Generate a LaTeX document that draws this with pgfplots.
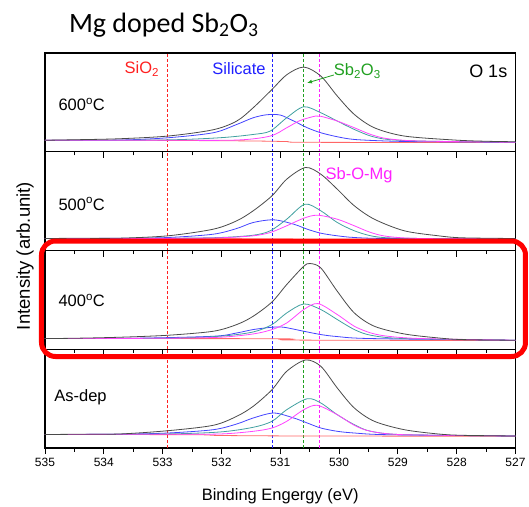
\documentclass[border=0pt]{standalone}
\usepackage{fontspec}
\setmainfont{Liberation Sans}
\newfontfamily\titlefont{Carlito}
\usepackage{pgfplots}
\pgfplotsset{compat=1.18}
\usepgfplotslibrary{groupplots}
\usetikzlibrary{calc,arrows.meta}

\definecolor{env}{HTML}{4A4A4A}
\definecolor{cteal}{HTML}{40A0A0}
\definecolor{cblue}{HTML}{4444FF}
\definecolor{cmag}{HTML}{FF44FF}
\definecolor{cred}{HTML}{FF6666}
\definecolor{lred}{HTML}{FF2020}
\definecolor{lblue}{HTML}{2020FF}
\definecolor{lgreen}{HTML}{20A020}
\definecolor{lmag}{HTML}{FF20FF}

\newcommand{\fs}[1]{\fontsize{#1}{#1}\selectfont}

\pgfplotsset{
  curve/.style={line width=0.8bp, smooth, tension=0.5},
  vline/.style={color=#1, line width=1.1bp, dash pattern=on 3bp off 2bp},
}

% peak positions (eV), chosen so that each line sits on a whole pixel
\newcommand{\vlines}{%
  \addplot[vline=lred] coordinates {(532.917,0) (532.917,98.75)};
  \addplot[vline=lblue] coordinates {(531.132,0) (531.132,98.75)};
  \addplot[vline=lgreen] coordinates {(530.605,0) (530.605,98.75)};
  \addplot[vline=lmag] coordinates {(530.333,0) (530.333,98.75)};
}

\begin{document}
\begin{tikzpicture}
\begin{groupplot}[
  group style={group name=G, group size=1 by 4, vertical sep=0pt, xticklabels at=edge bottom},
  width=470.5bp, height=98.75bp, scale only axis,
  xmin=527, xmax=535, x dir=reverse,
  ymin=0, ymax=98.75, ytick=\empty,
  xtick={527,528,...,535}, minor x tick num=1,
  tick align=outside, xtick pos=bottom,
  major tick length=6bp, minor tick length=3.5bp,
  axis line style={line width=1.1bp},
  every tick/.style={black, line width=0.9bp},
  /pgf/number format/assume math mode=true,
  /pgf/number format/1000 sep={},
  xticklabel style={font=\fs{12bp}, yshift=-1bp},
]
% ---- 600 C
\nextgroupplot
\vlines
\addplot[curve, cred] coordinates {(535,11.5)(533.5,11.5)(532.5,11.2)(531.5,10.8)(530.9,10.2)(530.7,9.5)(529,9.3)(527,9.2)};
\addplot[curve, cblue] coordinates {(535,11.5)(533.74,11.7)(532.91,14)(532.14,19)(531.74,27.3)(531.46,34)(531.23,37)(531.0,36.7)(530.77,30.7)(530.54,24)(530.31,19)(530.03,15)(529.74,12.3)(529.17,10.7)(528.5,10)(527,9.5)};
\addplot[curve, cteal] coordinates {(535,11.5)(533,11.8)(532.03,14)(531.46,17.3)(531.17,20.7)(530.89,34)(530.6,45)(530.31,39)(530.03,30.7)(529.74,22.3)(529.46,15.7)(529.17,12.3)(528.6,10.7)(527,9.5)};
\addplot[curve, cmag] coordinates {(535,11.5)(533,11.5)(531.74,11.7)(531.17,15.7)(530.89,24)(530.66,31.3)(530.4,35.7)(530.31,35.5)(530.03,30.7)(529.74,24)(529.46,17.3)(529.17,13)(528.6,10.7)(527,9.5)};
\addplot[curve, env] coordinates {(535,11.5)(534.5,12)(533.74,13)(532.91,15.7)(532.14,22)(531.74,30.7)(531.46,44)(531.14,62.3)(530.89,77)(530.6,84.7)(530.31,75.7)(530.03,55.7)(529.74,37.3)(529.4,24)(528.89,15.7)(528.03,11.7)(527.5,10.5)(527,10)};
\node[anchor=west, font=\fs{16.5bp}] at (axis cs:534.83,47) {600\textsuperscript{o}C};
\node[anchor=east, lred, font=\fs{16.5bp}] at (axis cs:533.0,82.75) {SiO\textsubscript{2}};
\node[lblue, font=\fs{16.5bp}] at (axis cs:531.70,82.75) {Silicate};
\node[lgreen, font=\fs{16.5bp}] at (axis cs:529.69,80.75) {Sb\textsubscript{2}O\textsubscript{3}};
\node[anchor=east, font=\fs{18bp}] at (axis cs:527.08,80.75) {O 1s};
\draw[lgreen, line width=0.8bp, -{Latex[length=5bp,width=4bp]}] (axis cs:530.09,76.75) -- (axis cs:530.545,68.75);
% ---- 500 C
\nextgroupplot
\vlines
\addplot[curve, cred] coordinates {(535,12)(531,11.5)(530.7,11)(527,10.8)};
\addplot[curve, cblue] coordinates {(535,12)(533.74,12.2)(532.91,13)(532.14,16.3)(531.74,22)(531.46,28)(531.11,30.7)(530.77,26.3)(530.54,21.3)(530.31,17.3)(530.03,14.7)(529.74,13)(529.17,12)(527,11.5)};
\addplot[curve, cteal] coordinates {(535,12)(533,12.2)(532.03,13)(531.46,15.3)(531.17,19.7)(530.89,31.3)(530.58,46.3)(530.31,39.7)(530.03,28)(529.74,19.7)(529.46,14.7)(529.17,12.7)(528.5,12)(527,11.5)};
\addplot[curve, cmag] coordinates {(535,12)(533,12.1)(532.03,12.7)(531.46,14.7)(531.17,18)(530.89,24.7)(530.6,32.3)(530.37,35.3)(530.03,31.3)(529.74,24.7)(529.46,18)(529.17,14)(528.6,12)(527,11.5)};
\addplot[curve, env] coordinates {(535,12)(534.5,12.2)(533.74,12.3)(532.91,14.7)(532.14,21.3)(531.74,29.7)(531.46,39.7)(531.14,54.7)(530.89,71.3)(530.57,83)(530.31,76.3)(530.03,61.3)(529.74,44.7)(529.4,31.3)(528.89,19.7)(528.31,14.7)(527.91,12.7)(527,12)};
\node[anchor=west, font=\fs{16.5bp}] at (axis cs:534.83,46.5) {500\textsuperscript{o}C};
\node[lmag, font=\fs{16.5bp}] at (axis cs:529.66,75) {Sb-O-Mg};
% ---- 400 C
\nextgroupplot
\vlines
\addplot[curve, cred] coordinates {(535,10.7)(531,10.5)(530.8,9.2)(527,8.7)};
\addplot[curve, cblue] coordinates {(535,10.7)(533.5,11)(532.14,13)(531.74,16.3)(531.46,19.7)(531.14,22)(530.94,22)(530.6,18)(530.31,14.7)(530.03,12.7)(529.46,10.7)(527,9)};
\addplot[curve, cteal] coordinates {(535,10.7)(533,11)(532.03,13)(531.46,17.3)(531.14,24.7)(530.89,36.3)(530.6,45.3)(530.31,39.7)(530.03,29.7)(529.74,19.7)(529.46,14)(528.89,10.7)(527,9)};
\addplot[curve, cmag] coordinates {(535,10.7)(533,11)(532.03,12)(531.46,15.3)(531.14,19.7)(530.89,26.3)(530.6,39.7)(530.36,45.7)(530.03,34.7)(529.74,23)(529.46,16.3)(529.17,13)(528.6,10.7)(527,9)};
\addplot[curve, env] coordinates {(535,10.7)(534.5,11)(533.74,12)(532.91,14)(532.14,18)(531.74,24.7)(531.46,33)(531.14,47.3)(530.89,64.7)(530.6,83)(530.49,85.7)(530.31,81.3)(530.03,58)(529.74,36.3)(529.4,23)(528.89,15.3)(528.31,11.3)(527.91,9.7)(527,9)};
\node[anchor=west, font=\fs{16.5bp}] at (axis cs:534.83,48.6) {400\textsuperscript{o}C};
% ---- As-dep
\nextgroupplot
\vlines
\addplot[curve, cred] coordinates {(535,13.5)(532.5,13.3)(532,12.5)(530.5,12)(527,11.8)};
\addplot[curve, cblue] coordinates {(535,13.5)(533.74,13.8)(532.91,15)(532.14,18.3)(531.74,24)(531.46,30)(531.11,35)(530.77,30)(530.54,25)(530.31,20)(530.03,16.7)(529.74,15)(529.17,13.3)(527,12)};
\addplot[curve, cteal] coordinates {(535,13.5)(533,14)(532.03,16)(531.46,20.7)(531.14,26.7)(530.89,38.3)(530.54,49.3)(530.31,45)(530.03,33.3)(529.74,23.3)(529.46,16.7)(528.89,13.3)(527,12)};
\addplot[curve, cmag] coordinates {(535,13.5)(533,13.8)(532.03,14)(531.46,16.7)(531.14,20)(530.89,26.7)(530.6,38.3)(530.37,42.7)(530.03,33.3)(529.74,22.7)(529.46,16.7)(528.89,13.3)(527,12)};
\addplot[curve, env] coordinates {(535,13.5)(534.5,13.7)(533.74,14)(532.91,17.3)(532.14,22.7)(531.74,31.7)(531.46,41.7)(531.14,58.3)(530.89,76.7)(530.57,88)(530.31,81.7)(530.03,60)(529.74,40)(529.4,26.7)(528.89,18.3)(528.31,14)(527.91,12.7)(527,12)};
\node[anchor=west, font=\fs{16.5bp}] at (axis cs:534.9,51) {As-dep};
\end{groupplot}
\node[font=\fs{16.5bp}] at ($(G c1r4.south)+(0,-48bp)$) {Binding Engergy (eV)};
\node[rotate=90, font=\fs{18.5bp}] at ($(G c1r2.south west)+(-20bp,-5.5bp)$) {Intensity (arb.unit)};
\node[anchor=base west, font=\titlefont\fs{28bp}] at ($(G c1r1.north west)+(20.5bp,21bp)$) {Mg doped Sb\textsubscript{2}O\textsubscript{3}};
\draw[red, line width=5bp, rounded corners=14bp] ($(G c1r3.north west)+(-3.5bp,9.5bp)$) rectangle ($(G c1r3.south east)+(10bp,-7.25bp)$);
\pgfresetboundingbox
\path[use as bounding box] ($(G c1r4.south west)+(-45bp,-59bp)$) rectangle ($(G c1r4.south west)+(484bp,448bp)$);
\end{tikzpicture}
\end{document}
